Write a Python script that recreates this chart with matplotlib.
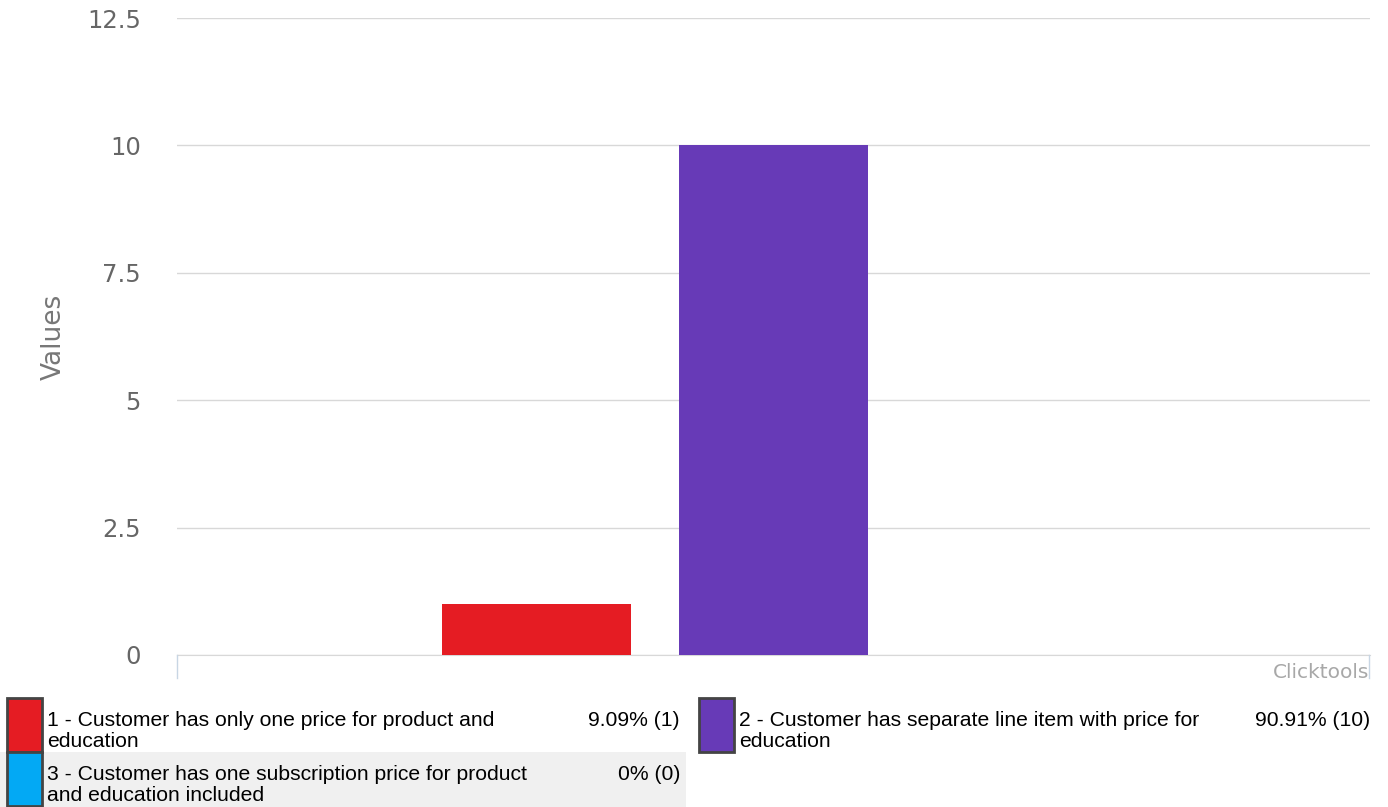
import matplotlib.pyplot as plt
from matplotlib.patches import Rectangle
from matplotlib.lines import Line2D

labels = ['1 - Customer has only one price for product and\neducation',
          '2 - Customer has separate line item with price for\neducation',
          '3 - Customer has one subscription price for product\nand education included']
values = [1, 10, 0]
percents = ['9.09% (1)', '90.91% (10)', '0% (0)']
colors = ['#e51c23', '#673ab7', '#03a9f4']
yticks = [0, 2.5, 5, 7.5, 10, 12.5]
ytick_labels = ['0', '2.5', '5', '7.5', '10', '12.5']

W, H = 1388, 807
fig = plt.figure(figsize=(W / 100, H / 100), dpi=100)


def fx(x):
    return x / W


def fy(y):
    return 1 - y / H


ax = fig.add_axes([fx(177), fy(655), fx(1370) - fx(177), fy(18) - fy(655)])
pos = [-1, 0, 1]
ax.bar(pos, values, width=0.796, color=colors, edgecolor='none', zorder=3)
ax.set_xlim(-2.512, 2.512)
ax.set_ylim(0, 12.5)
ax.set_yticks(yticks)
ax.set_yticklabels(ytick_labels)
ax.set_xticks([])
ax.tick_params(axis='y', length=0, pad=26, labelsize=17.5, labelcolor='#666666')
ax.grid(axis='y', color='#d8d8d8', linewidth=1, zorder=0)
for s in ['left', 'right', 'top']:
    ax.spines[s].set_visible(False)
ax.spines['bottom'].set_color('#d8d8d8')
fig.text(fx(54), fy(337), 'Values', rotation=90, ha='center', va='center',
         fontsize=19, color='#777777')

# axis band edges below the plot
for x in (177, 1369):
    fig.add_artist(Line2D([fx(x), fx(x)], [fy(655), fy(678)], color='#c8d6e4', lw=1))
fig.text(fx(1369), fy(672), 'Clicktools', ha='right', va='center', fontsize=14.5, color='#a8a8a8')

# legend
lf = ['Liberation Sans', 'DejaVu Sans']
fig.add_artist(Rectangle((0, fy(807)), fx(686), fy(752) - fy(807), transform=fig.transFigure,
                         facecolor='#f0f0f0', edgecolor='none'))
slots = [(7, 698, 680), (699, 698, 1370), (7, 752, 680)]
for (x0, y0, xr), lab, pct, c in zip(slots, labels, percents, colors):
    fig.add_artist(Rectangle((fx(x0), fy(y0 + 54)), fx(35), fy(0) - fy(54), transform=fig.transFigure,
                             facecolor=c, edgecolor='#444444', lw=2))
    fig.text(fx(x0 + 40), fy(y0 + 33), lab, ha='left', va='center', fontsize=15.2,
             family=lf, color='#000000', linespacing=1.1)
    fig.text(fx(xr), fy(y0 + 22), pct, ha='right', va='center', fontsize=15.2,
             family=lf, color='#000000')

fig.savefig('out.png', dpi=100)
